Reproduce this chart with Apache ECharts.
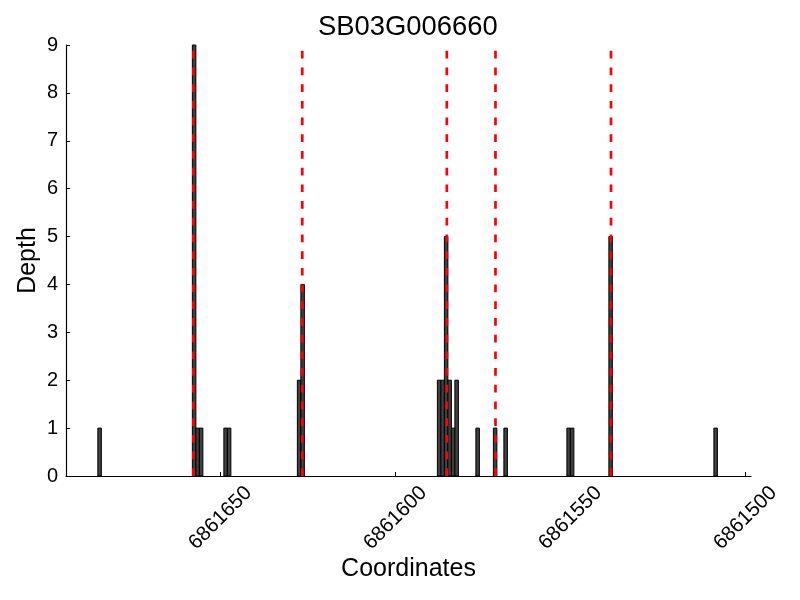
<!DOCTYPE html>
<html>
<head>
<meta charset="utf-8">
<script src="https://cdn.jsdelivr.net/npm/echarts@6/dist/echarts.min.js"></script>
<style>html,body{margin:0;padding:0;background:#fff;}#main{width:800px;height:600px;}</style>
</head>
<body>
<div id="main"></div>
<script>
// Data
const titleText = 'SB03G006660';
// left edge (start coordinate) of each 1-bp depth bar
const positions = [6861684, 6861657, 6861656, 6861655, 6861648, 6861647, 6861627, 6861626,
  6861587, 6861586, 6861585, 6861584, 6861583, 6861582, 6861576, 6861571, 6861568,
  6861550, 6861549, 6861538, 6861508];
const depths = [1, 9, 1, 1, 1, 1, 2, 4, 2, 2, 5, 2, 1, 2, 1, 1, 1, 1, 1, 5, 1];
const cutSites = [6861657.7, 6861626.6, 6861585.3, 6861571.4, 6861538.4];
const xTicks = [6861500, 6861550, 6861600, 6861650];
const yMax = 9;

const FONT = "'Liberation Sans', Arial, sans-serif";
const chart = echarts.init(document.getElementById('main'), null, {renderer: 'canvas'});

const barData = positions.map((p, i) => [p, depths[i]]);

const series = [{
  type: 'custom',
  name: 'depth',
  data: barData,
  encode: {x: 0, y: 1},
  z: 2,
  renderItem: function (params, api) {
    const x = api.value(0), y = api.value(1);
    const p0 = api.coord([x, 0]);
    const p1 = api.coord([x + 1, y]);
    const left = Math.min(p0[0], p1[0]);
    return {
      type: 'rect',
      shape: {x: left, y: p1[1], width: Math.abs(p1[0] - p0[0]), height: p0[1] - p1[1]},
      style: {fill: '#404040', stroke: '#000', lineWidth: 1}
    };
  }
}];

cutSites.forEach(c => {
  series.push({
    type: 'line',
    data: [[c, 0], [c, yMax]],
    symbol: 'none',
    z: 5,
    silent: true,
    lineStyle: {color: '#ff0000', width: 2.7, type: [7.7, 9]}
  });
});

chart.setOption({
  animation: false,
  backgroundColor: '#fff',
  title: {
    text: titleText,
    left: 318,
    top: 14,
    padding: 0,
    textStyle: {fontFamily: FONT, fontSize: 27.4, fontWeight: 'normal', color: '#000'}
  },
  grid: {left: 66, right: 49, top: 45, bottom: 124, containLabel: false},
  xAxis: {
    type: 'value',
    inverse: true,
    min: 6861498.4,
    max: 6861694.1,
    name: 'Coordinates',
    nameLocation: 'middle',
    nameGap: 81,
    nameMoveOverlap: false,
    nameTextStyle: {fontFamily: FONT, fontSize: 25, color: '#000'},
    splitLine: {show: false},
    axisLine: {lineStyle: {color: '#000', width: 1.2}},
    axisTick: {inside: true, length: 4, lineStyle: {color: '#000'}, customValues: xTicks},
    axisLabel: {
      customValues: xTicks,
      rotate: 45,
      align: 'center',
      verticalAlign: 'middle',
      margin: 42,
      fontFamily: FONT, fontSize: 20.5, color: '#000',
      formatter: v => String(v)
    }
  },
  yAxis: {
    type: 'value',
    min: 0,
    max: yMax,
    interval: 1,
    name: 'Depth',
    nameLocation: 'middle',
    nameGap: 25,
    nameMoveOverlap: false,
    nameTextStyle: {fontFamily: FONT, fontSize: 25, color: '#000'},
    splitLine: {show: false},
    axisLine: {show: true, lineStyle: {color: '#000', width: 1.2}},
    axisTick: {show: true, inside: true, length: 4, lineStyle: {color: '#000'}},
    axisLabel: {margin: 8, fontFamily: FONT, fontSize: 20, color: '#000'}
  },
  series: series
});
</script>
</body>
</html>
